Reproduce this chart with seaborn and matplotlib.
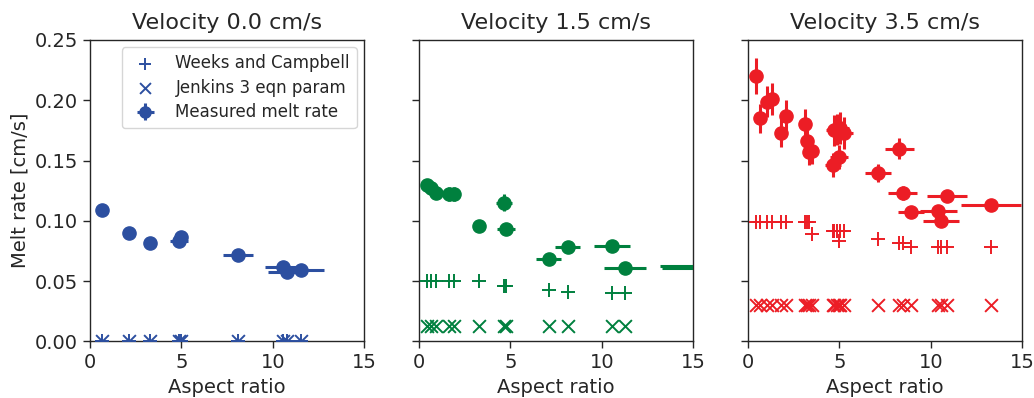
import matplotlib
matplotlib.use("Agg")
import matplotlib.pyplot as plt
import seaborn as sns
import numpy as np
import pandas as pd

# ---------------- data ----------------
titles = ["Velocity 0.0 cm/s", "Velocity 1.5 cm/s", "Velocity 3.5 cm/s"]
colors = ["#2c4fa0", "#00803e", "#ec1d25"]

# Velocity 0.0
v0_aspect = [0.64, 2.15, 3.27, 4.87, 5.0, 8.1, 10.55, 10.76, 11.55]
v0_melt = [0.109, 0.090, 0.0815, 0.0835, 0.0870, 0.0715, 0.0618, 0.0577, 0.0590]
v0_melt_err = [0.002, 0.002, 0.002, 0.002, 0.002, 0.002, 0.002, 0.002, 0.002]
v0_aspect_err = [0.06, 0.2, 0.3, 0.5, 0.3, 0.8, 1.0, 1.0, 1.27]
v0_weeks = [0.0, 0.0, 0.0, 0.0, 0.0, 0.0, 0.0, 0.0, 0.0]
v0_jenkins = [0.0, 0.0, 0.0, 0.0, 0.0, 0.0, 0.0, 0.0, 0.0]

# Velocity 1.5
v1_aspect = [0.42, 0.67, 0.91, 1.64, 1.91, 3.27, 4.64, 4.78, 7.09, 8.13, 10.55, 11.27, 16.2, 16.5]
v1_melt = [0.130, 0.127, 0.1235, 0.1222, 0.1222, 0.0960, 0.1150, 0.0935, 0.0684, 0.0786, 0.0791, 0.0610, 0.0625, 0.0607]
v1_melt_err = [0.004, 0.004, 0.004, 0.006, 0.006, 0.004, 0.007, 0.003, 0.002, 0.002, 0.002, 0.002, 0.002, 0.002]
v1_aspect_err = [0.04, 0.07, 0.09, 0.16, 0.19, 0.3, 0.45, 0.5, 0.7, 0.7, 1.0, 1.15, 3.0, 3.2]
v1_weeks = [0.050, 0.050, 0.050, 0.050, 0.050, 0.050, 0.046, 0.046, 0.043, 0.041, 0.040, 0.040, 0.038, 0.038]
v1_jenkins = [0.013] * 14

# Velocity 3.5
v3_aspect = [0.46, 0.64, 1.02, 1.30, 1.79, 2.06, 3.12, 3.22, 3.34, 3.50, 4.65, 4.72, 4.85, 4.98,
             5.05, 5.25, 7.11, 8.29, 8.47, 8.91, 10.42, 10.56, 10.87, 13.29]
v3_melt = [0.220, 0.185, 0.199, 0.201, 0.173, 0.187, 0.180, 0.166, 0.157, 0.158, 0.146, 0.175, 0.176, 0.153,
           0.177, 0.173, 0.140, 0.160, 0.123, 0.107, 0.108, 0.100, 0.121, 0.113]
v3_melt_err = [0.015, 0.012, 0.013, 0.013, 0.012, 0.013, 0.013, 0.012, 0.011, 0.011, 0.010, 0.013, 0.013, 0.010,
               0.013, 0.013, 0.0075, 0.009, 0.006, 0.004, 0.004, 0.004, 0.003, 0.003]
v3_aspect_err = [0.05, 0.06, 0.1, 0.13, 0.18, 0.2, 0.3, 0.3, 0.3, 0.35, 0.45, 0.45, 0.5, 0.5,
                 0.5, 0.5, 0.73, 0.8, 0.8, 0.72, 1.0, 1.0, 1.1, 1.65]
v3_weeks = [0.099, 0.099, 0.099, 0.099, 0.099, 0.099, 0.099, 0.099, 0.099, 0.089, 0.092, 0.092, 0.092, 0.083,
            0.092, 0.092, 0.085, 0.082, 0.082, 0.078, 0.078, 0.078, 0.078, 0.078]
v3_jenkins = [0.030] * 24

panels = [
    (v0_aspect, v0_melt, v0_melt_err, v0_aspect_err, v0_weeks, v0_jenkins),
    (v1_aspect, v1_melt, v1_melt_err, v1_aspect_err, v1_weeks, v1_jenkins),
    (v3_aspect, v3_melt, v3_melt_err, v3_aspect_err, v3_weeks, v3_jenkins),
]

xticks = [0, 5, 10, 15]
yticks = [0.00, 0.05, 0.10, 0.15, 0.20, 0.25]

# ---------------- plot ----------------
sns.set_style("ticks")
plt.rcParams["font.family"] = ["DejaVu Sans"]
plt.rcParams["axes.edgecolor"] = "#262626"

fig, axes = plt.subplots(1, 3, figsize=(10.34, 3.98), dpi=100, sharey=True)
fig.subplots_adjust(left=0.087, right=0.9885, bottom=0.142, top=0.8995, wspace=0.2)

for i, (ax, title, c, pdata) in enumerate(zip(axes, titles, colors, panels)):
    asp, melt, merr, aerr, weeks, jenk = pdata
    df = pd.DataFrame({"aspect": asp, "melt": melt, "weeks": weeks, "jenkins": jenk})
    sns.scatterplot(data=df, x="aspect", y="weeks", marker="+", s=100, color=c,
                    linewidth=1.4, ax=ax, label="Weeks and Campbell", zorder=3)
    sns.scatterplot(data=df, x="aspect", y="jenkins", marker="x", s=85, color=c,
                    linewidth=1.4, ax=ax, label="Jenkins 3 eqn param", zorder=3)
    ax.errorbar(asp, melt, yerr=merr, xerr=aerr, fmt="o", color=c, ms=9.5,
                elinewidth=2.2, capsize=0, label="Measured melt rate", zorder=4)
    ax.set_xlim(0, 15)
    ax.set_ylim(0, 0.25)
    ax.set_xticks(xticks)
    ax.set_yticks(yticks)
    ax.set_title(title, fontsize=16, pad=8)
    ax.set_xlabel("Aspect ratio", fontsize=14)
    ax.tick_params(labelsize=14, length=5, width=1.0)
    for sp in ax.spines.values():
        sp.set_visible(True)
        sp.set_linewidth(1.0)
    if i == 0:
        ax.set_ylabel("Melt rate [cm/s]", fontsize=14)
        ax.set_yticklabels([f"{v:.2f}" for v in yticks])
        ax.legend(loc="upper right", fontsize=12, frameon=True, borderaxespad=0.45,
                  handletextpad=0.8, labelspacing=0.4, markerscale=0.85)
    else:
        ax.set_ylabel("")
        if ax.get_legend() is not None:
            ax.get_legend().remove()

fig.savefig("out.png", dpi=100)
